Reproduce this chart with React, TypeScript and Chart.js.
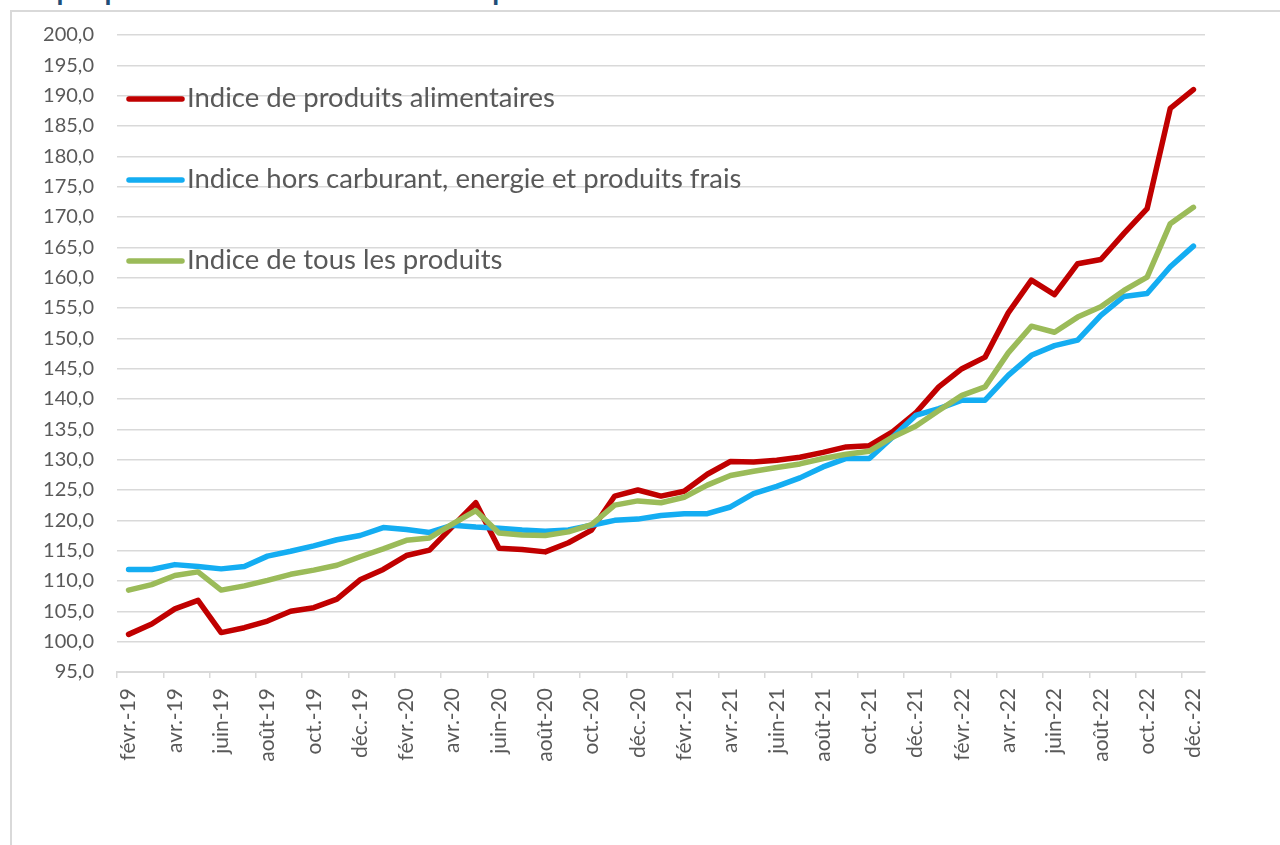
import React, { useEffect, useRef } from "react";
import { Chart, registerables } from "chart.js";

Chart.register(...registerables);

const months: string[] = [
  "févr.-19", "mars-19", "avr.-19", "mai-19", "juin-19", "juil.-19", "août-19", "sept.-19", "oct.-19", "nov.-19", "déc.-19",
  "janv.-20", "févr.-20", "mars-20", "avr.-20", "mai-20", "juin-20", "juil.-20", "août-20", "sept.-20", "oct.-20", "nov.-20", "déc.-20",
  "janv.-21", "févr.-21", "mars-21", "avr.-21", "mai-21", "juin-21", "juil.-21", "août-21", "sept.-21", "oct.-21", "nov.-21", "déc.-21",
  "janv.-22", "févr.-22", "mars-22", "avr.-22", "mai-22", "juin-22", "juil.-22", "août-22", "sept.-22", "oct.-22", "nov.-22", "déc.-22",
];

const seriesNames: string[] = [
  "Indice de produits alimentaires",
  "Indice hors carburant, energie et produits frais",
  "Indice de tous les produits",
];

const alimentaires: number[] = [
  101.2, 102.9, 105.4, 106.8, 101.5, 102.3, 103.4, 105.0, 105.6, 107.0, 110.2,
  111.9, 114.2, 115.1, 119.0, 122.9, 115.4, 115.2, 114.8, 116.3, 118.4, 124.0, 125.0,
  124.0, 124.8, 127.6, 129.7, 129.6, 129.9, 130.4, 131.2, 132.1, 132.3, 134.6, 137.7,
  142.0, 145.0, 146.9, 154.2, 159.6, 157.2, 162.3, 163.0, 167.3, 171.4, 187.9, 191.0,
];

const horsCarburant: number[] = [
  111.9, 111.9, 112.7, 112.4, 112.0, 112.4, 114.1, 114.9, 115.8, 116.8, 117.5,
  118.8, 118.5, 118.0, 119.2, 118.9, 118.7, 118.4, 118.2, 118.4, 119.2, 120.0, 120.2,
  120.8, 121.1, 121.1, 122.2, 124.4, 125.6, 127.0, 128.8, 130.2, 130.2, 133.7, 137.3,
  138.4, 139.8, 139.8, 143.9, 147.2, 148.8, 149.7, 153.8, 156.9, 157.4, 161.8, 165.2,
];

const tousProduits: number[] = [
  108.5, 109.4, 110.9, 111.5, 108.5, 109.2, 110.1, 111.1, 111.8, 112.6, 114.0,
  115.3, 116.7, 117.1, 119.4, 121.6, 117.9, 117.6, 117.5, 118.1, 119.3, 122.5, 123.2,
  122.9, 123.8, 125.8, 127.4, 128.1, 128.7, 129.3, 130.2, 130.9, 131.4, 133.7, 135.5,
  138.1, 140.6, 142.0, 147.6, 152.0, 151.0, 153.5, 155.2, 157.9, 160.1, 168.9, 171.6,
];

const seriesColors: string[] = ["#C00000", "#14ADF2", "#9BBB59"];

const FONT = "Lato, 'Noto Sans', sans-serif";
const TEXT_COLOR = "#595959";
const GRID_COLOR = "#d9d9d9";

const inlineLegend = {
  id: "inlineLegend",
  afterDatasetsDraw(chart: any) {
    const ctx = chart.ctx as CanvasRenderingContext2D;
    const { left, top } = chart.chartArea;
    ctx.save();
    chart.data.datasets.forEach((ds: any, i: number) => {
      const y = top + 64 + i * 81;
      ctx.strokeStyle = ds.borderColor;
      ctx.lineWidth = 5.5;
      ctx.lineCap = "round";
      ctx.beginPath();
      ctx.moveTo(left + 12, y);
      ctx.lineTo(left + 65, y);
      ctx.stroke();
      ctx.fillStyle = TEXT_COLOR;
      ctx.font = `27.5px ${FONT}`;
      ctx.textBaseline = "middle";
      ctx.textAlign = "left";
      ctx.fillText(ds.label, left + 70, y - 1);
    });
    ctx.restore();
  },
};

export default function App() {
  const canvasRef = useRef<HTMLCanvasElement | null>(null);

  useEffect(() => {
    if (!canvasRef.current) return;
    const chart = new Chart(canvasRef.current, {
      type: "line",
      data: {
        labels: months,
        datasets: [
          { label: seriesNames[0], data: alimentaires, borderColor: seriesColors[0], backgroundColor: seriesColors[0], order: 3 },
          { label: seriesNames[1], data: horsCarburant, borderColor: seriesColors[1], backgroundColor: seriesColors[1], order: 2 },
          { label: seriesNames[2], data: tousProduits, borderColor: seriesColors[2], backgroundColor: seriesColors[2], order: 1 },
        ].map((d) => ({
          ...d,
          borderWidth: 5.5,
          pointRadius: 0,
          pointHoverRadius: 0,
          tension: 0,
          borderJoinStyle: "round" as const,
          borderCapStyle: "round" as const,
          fill: false,
        })),
      },
      options: {
        animation: false,
        responsive: false,
        maintainAspectRatio: false,
        devicePixelRatio: 1,
        layout: { padding: { top: 35, right: 75, bottom: 0, left: 0 } },
        plugins: {
          legend: { display: false },
          tooltip: { enabled: false },
          title: { display: false },
        },
        scales: {
          x: {
            type: "category",
            offset: true,
            grid: {
              offset: true,
              drawOnChartArea: false,
              drawTicks: true,
              tickLength: 6,
              lineWidth: 1.5,
              tickColor: (c: any) => (typeof c.index === "number" && c.index % 2 === 0 ? GRID_COLOR : "rgba(0,0,0,0)"),
            },
            border: { display: true, color: GRID_COLOR, width: 2 },
            ticks: {
              autoSkip: false,
              maxRotation: 90,
              minRotation: 90,
              padding: 10,
              color: TEXT_COLOR,
              font: { family: FONT, size: 21 },
              callback: (_v: any, idx: number) => (idx % 2 === 0 ? months[idx] : ""),
            },
            afterFit: (axis: any) => {
              axis.height = 173;
            },
          },
          y: {
            min: 95,
            max: 200,
            grid: { color: GRID_COLOR, lineWidth: 1.5, drawTicks: false },
            border: { display: false },
            ticks: {
              stepSize: 5,
              padding: 23,
              color: TEXT_COLOR,
              font: { family: FONT, size: 20 },
              callback: (v: any) => Number(v).toFixed(1).replace(".", ","),
            },
            afterFit: (axis: any) => {
              axis.width = 117;
            },
          },
        },
      },
      plugins: [inlineLegend],
    });
    return () => chart.destroy();
  }, []);

  return (
    <div style={{ position: "fixed", left: 0, top: 0, width: 1280, height: 845, background: "#fff", overflow: "hidden" }}>
      <div
        style={{
          position: "absolute",
          left: 12,
          top: -28,
          font: `bold 28px ${FONT}`,
          color: "#1F4E79",
          whiteSpace: "nowrap",
          lineHeight: "normal",
        }}
      >
        Graphique 1 : Évolution des indices de prix
      </div>
      <div
        style={{
          position: "absolute",
          left: 10,
          top: 10,
          width: 1400,
          height: 1000,
          border: `2px solid ${GRID_COLOR}`,
          boxSizing: "border-box",
        }}
      />
      <canvas ref={canvasRef} width={1280} height={845} style={{ position: "absolute", left: 0, top: 0, width: 1280, height: 845 }} />
    </div>
  );
}
